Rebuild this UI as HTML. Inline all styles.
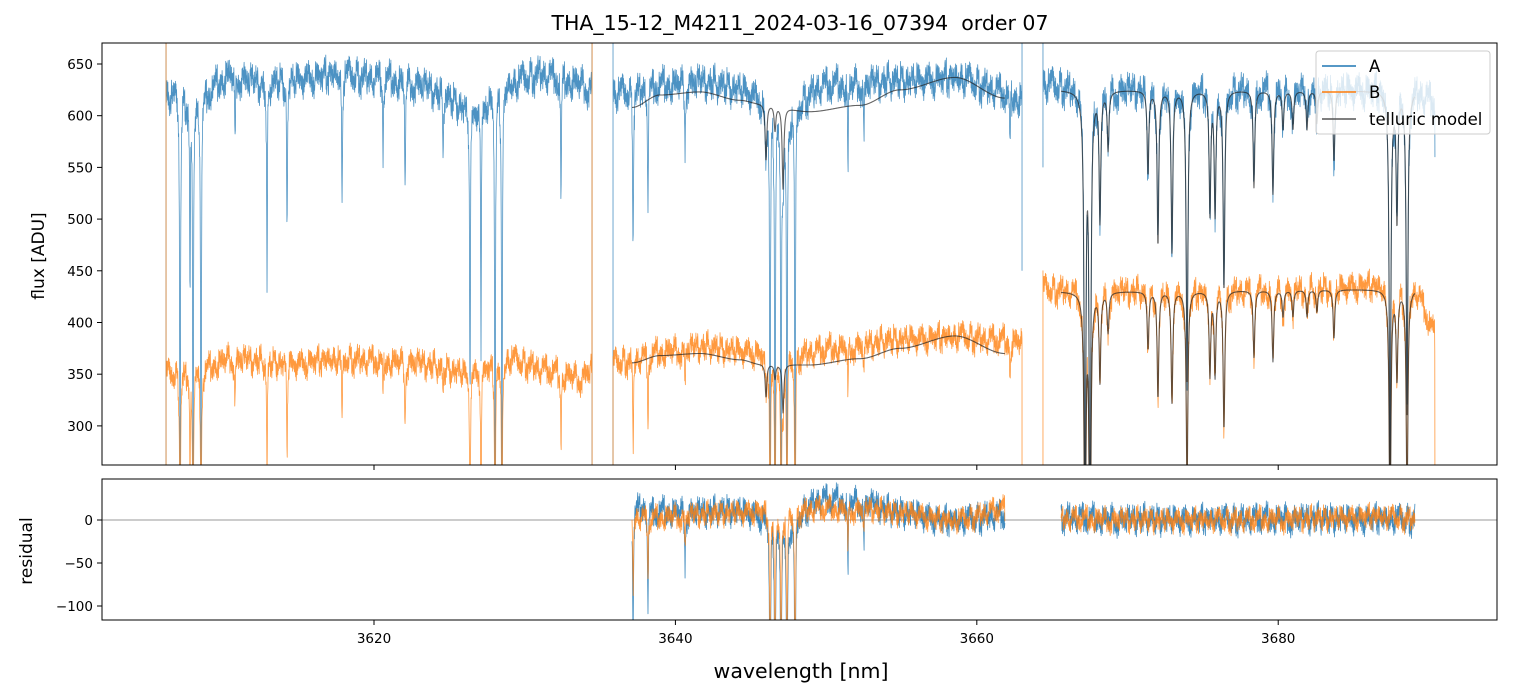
<!DOCTYPE html>
<html><head><meta charset="utf-8"><style>
html,body{margin:0;padding:0;background:#fff;overflow:hidden;width:1513px;height:696px;}
svg{display:block;}
svg text{font-family:"DejaVu Sans","Liberation Sans",sans-serif;fill:#000;}
</style></head><body>
<svg id="chart" width="1513" height="696" xmlns="http://www.w3.org/2000/svg">
<defs>
<clipPath id="cTop"><rect x="102" y="43" width="1395" height="422"/></clipPath>
<clipPath id="cBot"><rect x="102" y="479" width="1395" height="141"/></clipPath>
</defs>
<rect width="1513" height="696" fill="#fff"/>
<text x="800" y="30" font-size="20.5" text-anchor="middle">THA_15-12_M4211_2024-03-16_07394 &#160;order 07</text>
<g id="topPlot" clip-path="url(#cTop)"></g>
<g id="botPlot" clip-path="url(#cBot)"></g>
<rect x="102" y="43" width="1395" height="422" fill="none" stroke="#000" stroke-width="1"/>
<rect x="102" y="479" width="1395" height="141" fill="none" stroke="#000" stroke-width="1"/>
<g id="axes"></g>
<text transform="translate(44,256) rotate(-90)" font-size="17" text-anchor="middle">flux [ADU]</text>
<text transform="translate(32,551) rotate(-90)" font-size="17" text-anchor="middle">residual</text>
<text x="801" y="678" font-size="20.5" text-anchor="middle">wavelength [nm]</text>
<g>
<rect x="1316" y="51" width="174" height="83" rx="3" fill="#fff" fill-opacity="0.8" stroke="#ccc"/>
<line x1="1322" y1="66" x2="1356" y2="66" stroke="#1f77b4" stroke-width="1.5"/>
<text x="1369" y="72" font-size="16.5">A</text>
<line x1="1322" y1="92" x2="1356" y2="92" stroke="#ff7f0e" stroke-width="1.5"/>
<text x="1369" y="98" font-size="16.5">B</text>
<line x1="1322" y1="119" x2="1356" y2="119" stroke="#555" stroke-width="1.5"/>
<text x="1369" y="125" font-size="16.5">telluric model</text>
</g>
</svg>
<script>
const segments = [[3606.20,3634.47],[3635.86,3663.0],[3664.39,3690.40]];
const contW = [3606.2,3608.45,3610.44,3612.43,3615.09,3617.74,3620.40,3623.05,3626.37,3629.02,3631.01,3633.67,3634.47,3635.86,3638.98,3641.63,3644.29,3647.6,3649.59,3654.9,3658.88,3663.0,3664.39,3668.17,3674.81,3681.45,3686.75,3689.2,3690.4];
const contA = [620,615,640,630,635,640,635,630,605,630,640,630,625,620,628,632,625,605,628,633,636,615,630,625,625,625,625,624,612];
const contB = [350,352,365,362,360,365,362,360,350,365,355,345,355,360,370,376,372,368,372,383,386,380,432,430,430,432,436,432,385];
const stellarW = [3607.13,3607.79,3607.99,3608.52,3610.78,3612.90,3614.23,3617.88,3620.60,3622.06,3624.58,3626.37,3627.10,3628.03,3628.49,3632.41,3637.19,3638.18,3640.64,3646.28,3646.61,3647.01,3647.40,3647.94,3651.45,3652.51,3662.20];
const stellarD = [0.7,0.3,0.7,0.7,0.12,0.33,0.25,0.2,0.11,0.17,0.09,0.5,0.4,0.7,0.7,0.2,0.25,0.19,0.1,0.7,0.7,0.7,0.7,0.7,0.14,0.09,0.1];
const modelSegments = [[3637.12,3661.87],[3665.59,3689.08]];
const modelW = [3637.12,3638.98,3641.63,3644.29,3645.61,3648.93,3652.25,3654.9,3658.55,3661.87,3665.59,3689.08];
const modelA = [608,620,623,615,612,604,610,625,637,617,625,624];
const modelB = [361,368,370,364,360,359,365,375,387,370,430,432];
const telluricW = [3646.01,3646.61,3647.14,3667.18,3667.51,3668.17,3668.71,3671.36,3672.02,3672.95,3673.95,3675.47,3675.81,3676.40,3678.39,3679.65,3680.32,3680.98,3681.91,3682.57,3683.70,3687.42,3687.88,3688.55];
const telluricD = [0.09,0.04,0.13,0.7,0.75,0.2,0.09,0.13,0.24,0.25,0.45,0.19,0.19,0.31,0.15,0.16,0.06,0.06,0.06,0.05,0.11,0.6,0.2,0.5];
const noise = [0.3,-0.8,0.5,1.0,-0.2,-0.6,0.9,-1.0,0.1,0.7,-0.4,0.2,-0.9,0.6,0.8,-0.3,-0.7,0.4,1.0,-0.5,0.0,-0.9,0.6,0.3,-0.2,0.9,-0.6,-1.0,0.5,0.2,-0.4,0.8,-0.1,0.7,-0.8,0.4,-0.3,1.0,-0.7,0.1,0.6,-0.5,0.9,-0.9,0.2,-0.2,0.5,-0.6,0.8,0.0,-0.8,0.3,0.7,-0.4,-1.0,0.6,0.1,-0.3,0.9,-0.7,0.4,-0.1,0.5,-0.5];
const edgeStartA = [[-1000,2000],[-1000,2000],[550,2000]];
const edgeEndA = [[2000,-1000],[2000,450],[560]];
const edgeStartB = [[-1000,2000],[0],[0,450]];
const edgeEndB = [[2000,-1000],[0],[0]];
const xTicks = [3620,3640,3660,3680];
const yTicks = [300,350,400,450,500,550,600,650];
const rTicks = [-100,-50,0];

const clamp = (v, lo, hi) => Math.max(lo, Math.min(hi, v));
const X = w => 102 + (w - 3601.95) * 15.07;
const Y = v => 43 + (670.3 - clamp(v, 240, 690)) * 1.034;
const R = v => 520 - clamp(v, -130, 60) * 0.86;
const NS = 'http://www.w3.org/2000/svg';
function interp(ws, vs, w, smooth){
  if (w <= ws[0]) return vs[0];
  for (let i = 1; i < ws.length; i++) if (w <= ws[i]) {
    let t = (w-ws[i-1])/(ws[i]-ws[i-1]);
    if (smooth) t = t*t*(3-2*t);
    return vs[i-1] + t*(vs[i]-vs[i-1]);
  }
  return vs[vs.length-1];
}
function absorb(ws, ds, w, hw){
  let f = 1;
  for (let i = 0; i < ws.length; i++){ const u = (w-ws[i])/hw; if (Math.abs(u) < 60) f *= 1 - ds[i]/(1+u*u); }
  return f;
}
function tell(w){ return absorb(telluricW, telluricD, w, 0.065); }
function jitter(idx, amp){
  return amp * (0.65 * noise[idx % noise.length] + 0.55 * noise[Math.floor(idx/9) % noise.length]);
}
function dataVal(cont, w, idx, amp){
  return interp(contW, cont, w, false) * absorb(stellarW, stellarD, w, 0.03) * tell(w) + jitter(idx, amp);
}
function modelVal(mv, w){ return interp(modelW, mv, w, true) * tell(w); }
const step = 0.02;
const topG = document.getElementById('topPlot');
const botG = document.getElementById('botPlot');
function addPath(parent, d, color, width, opacity, name){
  const p = document.createElementNS(NS, 'path');
  p.setAttribute('d', d);
  p.setAttribute('fill', 'none');
  p.setAttribute('stroke', color);
  p.setAttribute('stroke-width', width);
  p.setAttribute('stroke-opacity', opacity);
  p.setAttribute('stroke-linejoin', 'round');
  
  
  parent.appendChild(p);
}
function seriesPath(cont, amp, off, es, ee){
  let d = '';
  segments.forEach((s, k) => {
    let first = true;
    const pt = (x, y) => { d += (first ? 'M' : 'L') + x.toFixed(2) + ' ' + y.toFixed(1); first = false; };
    es[k].forEach(v => pt(X(s[0]), Y(v)));
    let i = 0;
    for (let w = s[0]; w <= s[1]; w += step, i++) pt(X(w), Y(dataVal(cont, w, i + off, amp)));
    ee[k].forEach(v => pt(X(s[1]), Y(v)));
  });
  return d;
}
addPath(topG, seriesPath(contA, 18, 0, edgeStartA, edgeEndA), '#1f77b4', 0.8, 0.8, 'series-a-flux');
addPath(topG, seriesPath(contB, 15, 23, edgeStartB, edgeEndB), '#ff7f0e', 0.8, 0.8, 'series-b-flux');
function modelPath(mv){
  let d = '';
  modelSegments.forEach(s => {
    let first = true;
    for (let w = s[0]; w <= s[1]; w += step){ d += (first ? 'M' : 'L') + X(w).toFixed(2) + ' ' + Y(modelVal(mv, w)).toFixed(1); first = false; }
  });
  return d;
}
addPath(topG, modelPath(modelA), '#222', 1.1, 0.7, 'telluric-model-a');
addPath(topG, modelPath(modelB), '#222', 1.1, 0.7, 'telluric-model-b');
const zl = document.createElementNS(NS, 'line');
zl.setAttribute('x1', 102); zl.setAttribute('x2', 1497); zl.setAttribute('y1', R(0)); zl.setAttribute('y2', R(0));
zl.setAttribute('stroke', '#777'); zl.setAttribute('stroke-width', 0.7);


botG.appendChild(zl);
function residPath(cont, mv, amp, off){
  let d = '';
  modelSegments.forEach(s => {
    let first = true;
    let i = Math.round((s[0] - segments[s[0] > 3664 ? 2 : 1][0]) / step);
    for (let w = s[0]; w <= s[1]; w += step, i++){
      const r = dataVal(cont, w, i + off, amp) - modelVal(mv, w);
      d += (first ? 'M' : 'L') + X(w).toFixed(2) + ' ' + R(r).toFixed(1); first = false;
    }
  });
  return d;
}
addPath(botG, residPath(contA, modelA, 18, 0), '#1f77b4', 0.8, 0.85, 'residual-a');
addPath(botG, residPath(contB, modelB, 15, 23), '#ff7f0e', 0.8, 0.8, 'residual-b');
const axes = document.getElementById('axes');
function tick(x1, y1, x2, y2, name){
  const l = document.createElementNS(NS, 'line');
  l.setAttribute('x1', x1); l.setAttribute('y1', y1); l.setAttribute('x2', x2); l.setAttribute('y2', y2);
  l.setAttribute('stroke', '#000'); l.setAttribute('stroke-width', 1);
  
  
  axes.appendChild(l);
}
function label(x, y, txt, anchor, name){
  const t = document.createElementNS(NS, 'text');
  t.setAttribute('x', x); t.setAttribute('y', y); t.setAttribute('font-size', 13.5); t.setAttribute('text-anchor', anchor);
  t.textContent = txt;
  
  
  axes.appendChild(t);
}
xTicks.forEach(v => {
  tick(X(v), 465, X(v), 470, 'x-tick-top');
  tick(X(v), 620, X(v), 625, 'x-tick');
  label(X(v), 643, String(v), 'middle', 'x-tick-label');
});
yTicks.forEach(v => { tick(97, Y(v), 102, Y(v), 'y-tick'); label(93, Y(v)+5, String(v), 'end', 'y-tick-label'); });
rTicks.forEach(v => { tick(97, R(v), 102, R(v), 'residual-tick'); label(93, R(v)+5, v < 0 ? '\u2212' + Math.abs(v) : String(v), 'end', 'residual-tick-label'); });
</script>
</body></html>
